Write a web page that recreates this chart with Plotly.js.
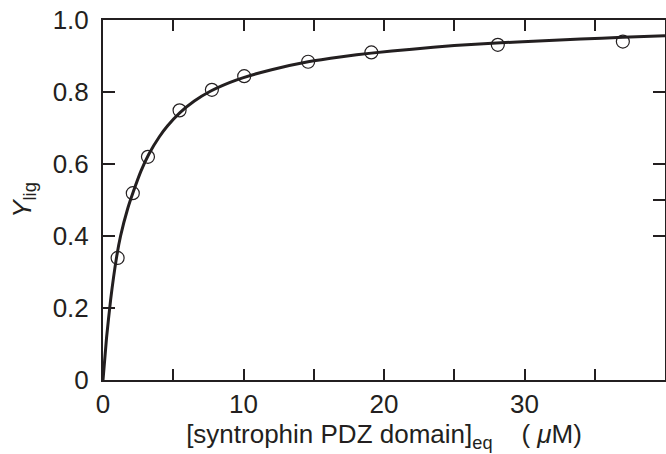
<!DOCTYPE html>
<html>
<head>
<meta charset="utf-8">
<script src="https://cdn.plot.ly/plotly-3.0.1.min.js"></script>
<style>html,body{margin:0;padding:0;background:#fff;}#chart{width:666px;height:454px;}</style>
</head>
<body>
<div id="chart"></div>
<script>
// Measured data points
const pointX = [1.04, 2.12, 3.2, 5.45, 7.75, 10.05, 14.6, 19.1, 28.1, 37.0];
const pointY = [0.339, 0.519, 0.62, 0.749, 0.806, 0.844, 0.884, 0.910, 0.931, 0.940];

// Fitted curve
const curveX = [0, 0.25, 0.54, 0.97, 1.25, 1.75, 2.15, 2.7, 3.26, 4.0, 4.6, 5.46, 6.5, 7.64, 9.0, 10.0, 12.0, 14.6, 17.0, 19.1, 22.0, 25.0, 28.0, 31.0, 34.0, 37.0, 40.0];
const curveY = [0, 0.116, 0.222, 0.342, 0.40, 0.475, 0.522, 0.58, 0.627, 0.675, 0.706, 0.742, 0.775, 0.802, 0.826, 0.840, 0.862, 0.884, 0.898, 0.908, 0.919, 0.929, 0.936, 0.942, 0.947, 0.952, 0.956];

const xTickVals = [0, 5, 10, 15, 20, 25, 30, 35];
const xTickText = ['0', '', '10', '', '20', '', '30', ''];
const yTickVals = [0, 0.2, 0.4, 0.6, 0.8, 1.0];
const yTickText = ['0', '0.2', '0.4', '0.6', '0.8', '1.0'];
const yRightTickVals = [0.4, 0.5, 0.6, 0.8];

const ink = '#231f20';
const fontFam = 'Liberation Sans, Arial, sans-serif';

const traces = [
  {x: curveX, y: curveY, type: 'scatter', mode: 'lines',
   line: {color: ink, width: 3, shape: 'spline', smoothing: 0.5}, hoverinfo: 'skip', showlegend: false},
  {x: pointX, y: pointY, type: 'scatter', mode: 'markers',
   marker: {symbol: 'circle-open', size: 13, color: ink, line: {width: 1.2, color: ink}}, showlegend: false},
  {x: [0], y: [0], yaxis: 'y2', type: 'scatter', mode: 'markers', marker: {opacity: 0}, hoverinfo: 'skip', showlegend: false}
];

const layout = {
  width: 666, height: 454,
  margin: {l: 103, r: 1, t: 20, b: 74},
  paper_bgcolor: '#fff', plot_bgcolor: '#fff',
  font: {family: fontFam, color: ink, size: 26},
  showlegend: false,
  xaxis: {
    range: [0, 40], tickvals: xTickVals, ticktext: xTickText,
    ticks: 'inside', ticklen: 11, tickwidth: 2, tickcolor: ink,
    showline: true, linewidth: 2, linecolor: ink, mirror: 'ticks',
    showgrid: false, zeroline: false,
    tickfont: {size: 26, family: fontFam, color: ink},
    title: {text: '[syntrophin PDZ domain]<sub>eq</sub>&nbsp;&nbsp;&nbsp;&nbsp;(&nbsp;<i>μ</i>M)', font: {size: 26, family: fontFam, color: ink}, standoff: 2}
  },
  yaxis: {
    range: [0, 1], tickvals: yTickVals, ticktext: yTickText,
    ticks: 'inside', ticklen: 12, tickwidth: 2, tickcolor: ink,
    showline: true, linewidth: 2, linecolor: ink,
    showgrid: false, zeroline: false, ticklabelstandoff: 7,
    tickfont: {size: 26, family: fontFam, color: ink},
    title: {text: '<i>Y</i><sub>lig</sub>', font: {size: 26, family: fontFam, color: ink}, standoff: 14}
  },
  yaxis2: {
    overlaying: 'y', side: 'right', range: [0, 1], tickvals: yRightTickVals,
    ticks: 'inside', ticklen: 12, tickwidth: 2, tickcolor: ink,
    showline: true, linewidth: 2, linecolor: ink,
    showticklabels: false, showgrid: false, zeroline: false
  }
};

Plotly.newPlot('chart', traces, layout, {displayModeBar: false, staticPlot: true});
</script>
</body>
</html>
